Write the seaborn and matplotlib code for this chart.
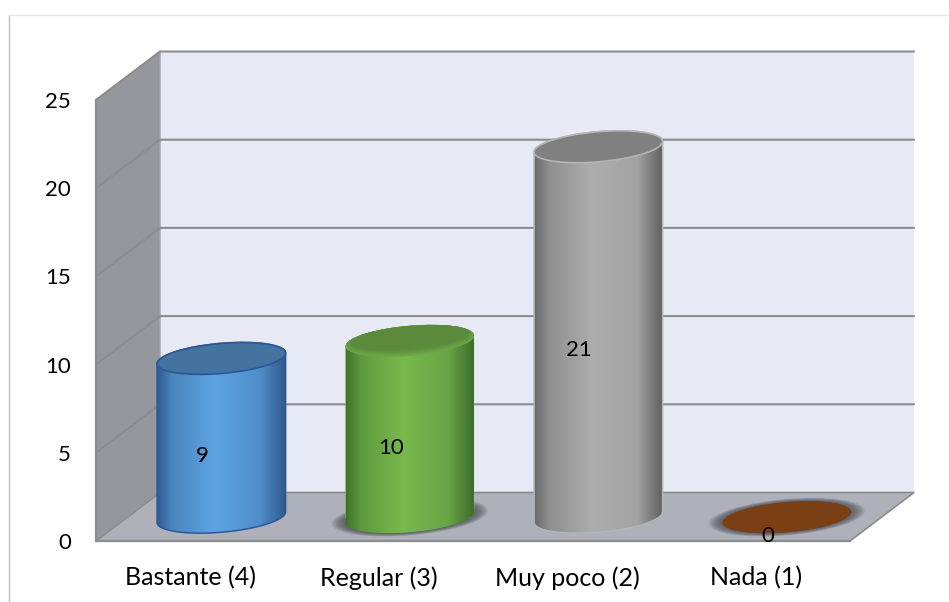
import numpy as np
import pandas as pd
import matplotlib.pyplot as plt
import seaborn as sns
from matplotlib.colors import LinearSegmentedColormap, to_rgb
from matplotlib.lines import Line2D
from matplotlib.patches import Ellipse, PathPatch, Polygon
from matplotlib.path import Path
from matplotlib.transforms import Affine2D, IdentityTransform

categories = ["Bastante (4)", "Regular (3)", "Muy poco (2)", "Nada (1)"]
values = [9, 10, 21, 0]
y_ticks = [0, 5, 10, 15, 20, 25]

W, H = 949, 602
DX, DY = 0.34, 2.75  # depth of the fake 3d box, data units
WALL = "#96969e"
FLOOR = "#aeb1b9"
BACK = "#e7e9f5"
GRID = "#8c8c8c"
STOPS = [0, 0.12, 0.45, 0.8, 1]

# side gradient, top colour, rim colour, shadow or not
looks = [
	(["#2f5c90", "#4a86bd", "#5ea4e3", "#4f8ec9", "#2f5a8c"], "#43749f", "#2f5597", False),
	(["#3f7028", "#5e9a3d", "#78b94d", "#68a544", "#3f6e2a"], "#5b8a3c", "#6ea648", True),
	(["#6a6a6a", "#8f8f8f", "#adadad", "#a3a3a3", "#5f5f5f"], "#808080", "#b5b5b5", False),
	(["#7b3f16", "#7b3f16", "#7b3f16", "#7b3f16", "#7b3f16"], "#7b3f16", "#7b3f16", True),
]

sns.set_theme(style="white")
plt.rcParams["font.family"] = ["Lato", "DejaVu Sans"]

df = pd.DataFrame({"categoria": categories, "valor": values})

fig = plt.figure(figsize=(W / 100, H / 100), dpi=100)
ax = fig.add_axes([96 / W, (H - 541) / H, 754 / W, 441 / H])
sns.barplot(data=df, x="categoria", y="valor", hue="categoria", palette=[l[1] for l in looks],
	legend=False, width=0.684, ax=ax, zorder=3)
bars = list(ax.patches)

ax.set_xlim(-0.5, 3.5)
ax.set_ylim(0, 25)
ax.set_xlabel("")
ax.set_ylabel("")
ax.set_yticks(y_ticks)
ax.tick_params(axis="y", length=0, pad=18, labelsize=16, colors="black")
ax.tick_params(axis="x", length=0, pad=18, labelsize=18, colors="black")
ax.patch.set_visible(False)
sns.despine(ax=ax, top=True, right=True)
for side in ["left", "bottom"]:
	ax.spines[side].set_color(GRID)
	ax.spines[side].set_linewidth(1.6)
	ax.spines[side].set_zorder(1.5)

############################################
# walls and floor

x0, x1 = -0.5, 3.5
ax.add_patch(Polygon([(x0 + DX, DY), (x1 + DX, DY), (x1 + DX, 25 + DY), (x0 + DX, 25 + DY)],
	fc=BACK, ec="none", zorder=0, clip_on=False))
ax.add_patch(Polygon([(x0, 0), (x0, 25), (x0 + DX, 25 + DY), (x0 + DX, DY)],
	fc=WALL, ec="#a9a9ae", lw=1, zorder=0.5, clip_on=False))
ax.add_patch(Polygon([(x0, 0), (x1, 0), (x1 + DX, DY), (x0 + DX, DY)],
	fc=FLOOR, ec=GRID, lw=1.2, zorder=0.6, clip_on=False))
for v in y_ticks[1:]:
	ax.plot([x0, x0 + DX, x1 + DX], [v, v + DY, v + DY], color=GRID, lw=1.5, zorder=1, clip_on=False)

############################################
# cylinders, the bars stay the base and get shaped in pixels

RX, RY, TILT = 64.5, 15.0, 5.0
t_low = np.linspace(np.pi, 2 * np.pi, 60)
t_up = np.linspace(0, np.pi, 60)


def arc(center, t):
	pts = np.column_stack([RX * np.cos(t), RY * np.sin(t)])
	return Affine2D().rotate_deg(TILT).translate(*center).transform(pts)


ident = IdentityTransform()
for p, v, look in zip(bars, values, looks):
	stops, top_c, rim_c, shadow = look
	p.set_x(p.get_x() + DX / 2 - 0.005)
	p.set_y(1.35)
	xc = p.get_x() + p.get_width() / 2
	base = ax.transData.transform((xc, p.get_y()))
	top = ax.transData.transform((xc, p.get_y() + v))

	if shadow:
		for s in np.linspace(1.22, 1.0, 16):
			ax.add_patch(Ellipse(base, 2 * RX * s, 2 * RY * s, angle=TILT, fc="#4a4a50", ec="none",
				alpha=0.08, transform=ident, zorder=2, clip_on=False))

	body = np.vstack([arc(base, t_low), arc(top, t_up), arc(base, t_low[:1])])
	body_path = Path(body, closed=True)
	p.set_clip_path(body_path, ident)

	cmap = LinearSegmentedColormap.from_list("side", list(zip(STOPS, stops)))
	im = ax.imshow(np.linspace(0, 1, 256)[None, :], cmap=cmap, aspect="auto", zorder=4,
		extent=(p.get_x(), p.get_x() + p.get_width(), p.get_y() - 3, p.get_y() + v + 3))
	im.set_clip_box(None)
	im.set_clip_path(body_path, ident)

	if top_c in ("#43749f", "#808080"):
		ax.add_patch(PathPatch(body_path, fc="none", ec=rim_c, lw=1.1, transform=ident, zorder=4.5, clip_on=False))
		ax.add_patch(Ellipse(top, 2 * RX, 2 * RY, angle=TILT, fc=top_c, ec=rim_c, lw=1.2, transform=ident,
			zorder=5, clip_on=False))
	else:
		ax.add_patch(Ellipse(top, 2 * RX, 2 * RY, angle=TILT, fc=rim_c, ec="none", transform=ident,
			zorder=5, clip_on=False))
	if top_c == "#5b8a3c":
		# soft bevel on the green one
		for k, f in enumerate(np.linspace(0, 1, 8)):
			mix = np.array(to_rgb(rim_c)) * (1 - f) + np.array(to_rgb(top_c)) * f
			ax.add_patch(Ellipse(top + np.array([0, 3 * f]), 2 * RX - 10 * f, 2 * RY - 7 * f, angle=TILT, fc=mix,
				ec="none", transform=ident, zorder=5.1 + k * 0.01, clip_on=False))

ax.set_xlim(-0.5, 3.5)
ax.set_ylim(0, 25)

############################################
# data labels sit on the front plane

for i, v in enumerate(values):
	ax.text(i + 0.064, v / 2 + 0.3, str(v), ha="center", va="center", fontsize=16, color="black",
		zorder=7, clip_on=False)

# frame pieces of the chart area
fig.add_artist(Line2D([9 / W, 9 / W], [0, (H - 15) / H], color="#bdbdbd", lw=1))
fig.add_artist(Line2D([9 / W, 1], [(H - 15) / H, (H - 15) / H], color="#e6e6e6", lw=1))

plt.savefig("out.png", dpi=100)
plt.close()
